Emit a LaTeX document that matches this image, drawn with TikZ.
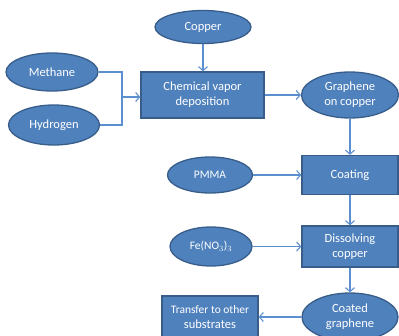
\documentclass[tikz,border=0pt]{standalone}
\usepackage{fontspec}
\setmainfont{Carlito}
\usetikzlibrary{shapes.geometric,arrows.meta}
\definecolor{fillblue}{HTML}{4F81BD}
\definecolor{edgeblue}{HTML}{385D8A}
\definecolor{arrowblue}{HTML}{5B8FD0}
\begin{document}
\begin{tikzpicture}[x=1pt,y=-1pt,
  base/.style={fill=fillblue,draw=edgeblue,line width=1.3pt,text=white,font=\fontsize{12.5}{15}\selectfont,align=center,inner sep=0pt},
  oval/.style={base,ellipse},
  boxx/.style={base,rectangle},
  conn/.style={draw=arrowblue,line width=1.1pt,-{Straight Barb[length=4pt,width=9pt,line width=1.1pt]}},
  plainconn/.style={draw=arrowblue,line width=1.1pt}]
\useasboundingbox (0,0) rectangle (399,335);
\node[oval,minimum width=96pt,minimum height=33pt] (copper) at (203,27) {Copper};
\node[oval,minimum width=92pt,minimum height=38pt] (methane) at (52,72) {Methane};
\node[oval,minimum width=91pt,minimum height=40pt] (hydrogen) at (54,125) {Hydrogen};
\node[boxx,minimum width=123pt,minimum height=46pt] (cvd) at (202.5,95) {Chemical vapor\\deposition};
\node[oval,minimum width=97pt,minimum height=46pt] (gcu) at (350,95) {Graphene\\on copper};
\node[boxx,minimum width=96pt,minimum height=39pt] (coating) at (350,175) {Coating};
\node[oval,minimum width=85pt,minimum height=36pt] (pmma) at (210,175) {\fontsize{11.5}{13.5}\selectfont PMMA};
\node[boxx,minimum width=96pt,minimum height=41pt] (dissolve) at (350,246.5) {Dissolving\\copper};
\node[oval,minimum width=82pt,minimum height=39pt] (fe) at (211,246.5) {\fontsize{11.5}{13.5}\selectfont Fe(NO$_3$)$_3$};
\node[oval,minimum width=96pt,minimum height=48pt] (coated) at (350,317) {Coated\\graphene};
\node[boxx,minimum width=96pt,minimum height=42pt] (transfer) at (210,317) {\fontsize{11.5}{13}\selectfont Transfer to other\\substrates};
\coordinate (j) at (122,97);
\draw[plainconn] (methane.east) -| (j);
\draw[plainconn] (hydrogen.east) -| (j);
\draw[conn] (j) -- (cvd.west |- j);
\draw[conn] (copper.south) -- (cvd.north -| copper.south);
\draw[conn] (cvd.east |- gcu.west) -- (gcu.west);
\draw[conn] (gcu.south) -- (coating.north);
\draw[conn] (pmma.east) -- (coating.west |- pmma.east);
\draw[conn] (coating.south) -- (dissolve.north);
\draw[conn] (fe.east) -- (dissolve.west |- fe.east);
\draw[conn] (dissolve.south) -- (coated.north);
\draw[conn] (coated.west) -- (transfer.east |- coated.west);
\end{tikzpicture}
\end{document}
